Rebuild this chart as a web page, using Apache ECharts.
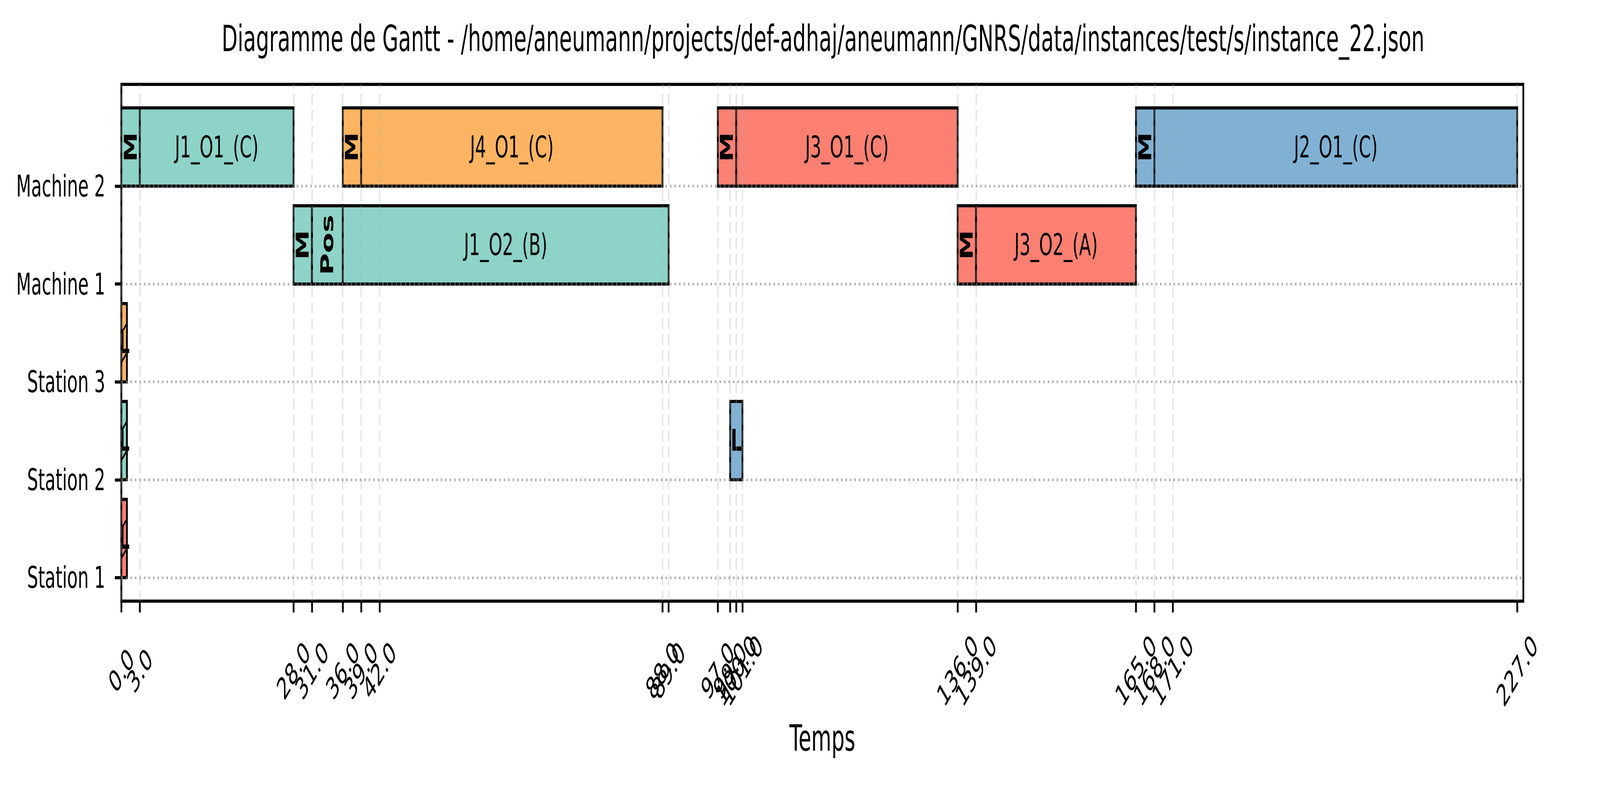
<!DOCTYPE html>
<html>
<head>
    <meta charset="utf-8">
    <title>Diagramme de Gantt</title>
    <script src="https://cdn.jsdelivr.net/npm/echarts@6/dist/echarts.min.js"></script>
    <style>
        html, body { margin: 0; padding: 0; background: #fff; overflow: hidden; }
        #chart { width: 7117px; height: 2020px; transform-origin: 0 0; }
    </style>
</head>
<body>
<div id="chart"></div>
<script>
    // ressources (axe Y, de bas en haut)
    var rows = ['Station 1', 'Station 2', 'Station 3', 'Machine 1', 'Machine 2'];

    // tâches : ligne, début, fin, libellé, job, hachuré
    var taskRow   = [4, 4, 4, 4, 4, 4, 4, 4, 3, 3, 3, 3, 3, 2, 1, 1, 0];
    var taskStart = [0, 3, 36, 39, 97, 100, 165, 168, 28, 31, 36, 136, 139, 0, 0, 99, 0];
    var taskEnd   = [3, 28, 39, 88, 100, 136, 168, 227, 31, 36, 89, 139, 165, 0.9, 0.9, 101, 0.9];
    var taskLabel = ['M', 'J1_O1_(C)', 'M', 'J4_O1_(C)', 'M', 'J3_O1_(C)', 'M', 'J2_O1_(C)',
                     'M', 'Pos', 'J1_O2_(B)', 'M', 'J3_O2_(A)', 'L', 'L', 'L', 'L'];
    var taskJob   = ['J1', 'J1', 'J4', 'J4', 'J3', 'J3', 'J2', 'J2',
                     'J1', 'J1', 'J1', 'J3', 'J3', 'J4', 'J1', 'J2', 'J3'];
    var taskHatch = [0, 0, 0, 0, 0, 0, 0, 0, 0, 0, 0, 0, 0, 1, 1, 0, 1];

    // graduations de l'axe des temps
    var xTicks = [0, 3, 28, 31, 36, 39, 42, 88, 89, 97, 99, 100, 101, 136, 139, 165, 168, 171, 227];

    var jobColors = { J1: '#8dd3c7', J4: '#fdb462', J3: '#fb8072', J2: '#80b1d3' };

    var data = taskRow.map(function (r, i) {
        return [r, taskStart[i], taskEnd[i], i];
    });

    var FONT = 'DejaVu Sans';

    function renderItem(params, api) {
        var idx = api.value(3);
        var p0 = api.coord([api.value(1), api.value(0)]);
        var p1 = api.coord([api.value(2), api.value(0) + 0.8]);
        var label = taskLabel[idx];
        var isJob = label.charAt(0) === 'J';
        var rotate = (label === 'M' || label === 'Pos');
        var x0 = p0[0], w = p1[0] - p0[0], yb = p0[1], yt = p1[1];
        var children = [{
            type: 'rect',
            shape: { x: x0, y: yt, width: w, height: yb - yt },
            style: { fill: jobColors[taskJob[idx]], stroke: '#000', lineWidth: 8 }
        }];
        if (taskHatch[idx]) {
            // hachures '/'
            for (var off = 50; off + w < yb - yt; off += 75) {
                children.push({
                    type: 'line',
                    shape: { x1: x0, y1: yb - off, x2: x0 + w, y2: yb - off - w },
                    style: { stroke: '#000', lineWidth: 6 }
                });
            }
        }
        children.push({
            type: 'text',
            x: (x0 + p1[0]) / 2, y: (yb + yt) / 2,
            rotation: rotate ? Math.PI / 2 : 0,
            style: {
                text: label,
                fill: '#000',
                font: (isJob ? 'normal ' : 'bold ') + '77px "' + FONT + '"',
                align: 'center',
                verticalAlign: 'middle'
            },
            z2: 10
        });
        return { type: 'group', children: children };
    }

    var dom = document.getElementById('chart');
    // le graphique est dessiné en 7117x2020 puis ajusté à la fenêtre
    var sx = window.innerWidth / 7117, sy = window.innerHeight / 2020;
    if (sx > 0 && sy > 0 && (Math.abs(sx - 1) > 0.01 || Math.abs(sy - 1) > 0.01)) {
        dom.style.transform = 'scale(' + sx + ',' + sy + ')';
    }

    var chart = echarts.init(dom, null, { renderer: 'svg', width: 7117, height: 2020 });

    var tickLabel = {
        rotate: 45,
        align: 'center',
        verticalAlign: 'middle',
        margin: 178,
        hideOverlap: false,
        fontFamily: FONT,
        fontSize: 77,
        color: '#000',
        formatter: function (v) { return v.toFixed(1); }
    };

    var option = {
        backgroundColor: '#fff',
        animation: false,
        title: {
            text: 'Diagramme de Gantt - /home/aneumann/projects/def-adhaj/aneumann/GNRS/data/instances/test/s/instance_22.json',
            left: 3656,
            textAlign: 'center',
            top: 48,
            textStyle: { fontFamily: FONT, fontSize: 92, fontWeight: 'normal', color: '#000' }
        },
        grid: {
            left: 540, right: 341, top: 216, bottom: 481,
            show: true, borderColor: '#000', borderWidth: 8, containLabel: false
        },
        xAxis: [{
            type: 'value',
            min: 0,
            max: 228,
            position: 'bottom',
            name: 'Temps',
            nameLocation: 'middle',
            nameGap: 305,
            nameTextStyle: { fontFamily: FONT, fontSize: 92, color: '#000' },
            axisLine: { show: true, onZero: false, lineStyle: { color: '#000', width: 8 } },
            axisTick: { show: true, length: 29, customValues: xTicks, lineStyle: { color: '#000', width: 8 } },
            axisLabel: Object.assign({ customValues: xTicks.slice(1) }, tickLabel),
            splitLine: { show: false }
        }, {
            // libellé 0.0 porté à part pour qu'il ne masque pas 3.0
            type: 'value',
            min: 0,
            max: 228,
            position: 'bottom',
            offset: 0,
            axisLine: { show: false, onZero: false },
            axisTick: { show: false },
            axisLabel: Object.assign({ customValues: xTicks.slice(0, 1) }, tickLabel),
            splitLine: { show: false }
        }],
        yAxis: {
            type: 'value',
            min: -0.24,
            max: 5.04,
            axisLine: { show: true, onZero: false, lineStyle: { color: '#000', width: 8 } },
            axisTick: { show: true, length: 29, customValues: [0, 1, 2, 3, 4], lineStyle: { color: '#000', width: 8 } },
            axisLabel: {
                customValues: [0, 1, 2, 3, 4],
                margin: 72,
                fontFamily: FONT,
                fontSize: 77,
                color: '#000',
                formatter: function (v) { return rows[Math.round(v)]; }
            },
            splitLine: { show: false }
        },
        series: [{
            type: 'custom',
            renderItem: renderItem,
            encode: { x: [1, 2], y: 0 },
            data: data,
            z: 2,
            clip: true
        }, {
            type: 'line',
            data: [],
            z: 5,
            silent: true,
            markLine: {
                silent: true,
                symbol: 'none',
                label: { show: false },
                data: xTicks.map(function (t) {
                    return {
                        xAxis: t,
                        lineStyle: { color: 'rgba(176,176,176,0.3)', width: 7, type: [28, 13] }
                    };
                }).concat(rows.map(function (r, i) {
                    return {
                        yAxis: i,
                        lineStyle: { color: 'rgba(128,128,128,0.6)', width: 7, type: [7, 13] }
                    };
                }))
            }
        }]
    };

    chart.setOption(option);
</script>
</body>
</html>
